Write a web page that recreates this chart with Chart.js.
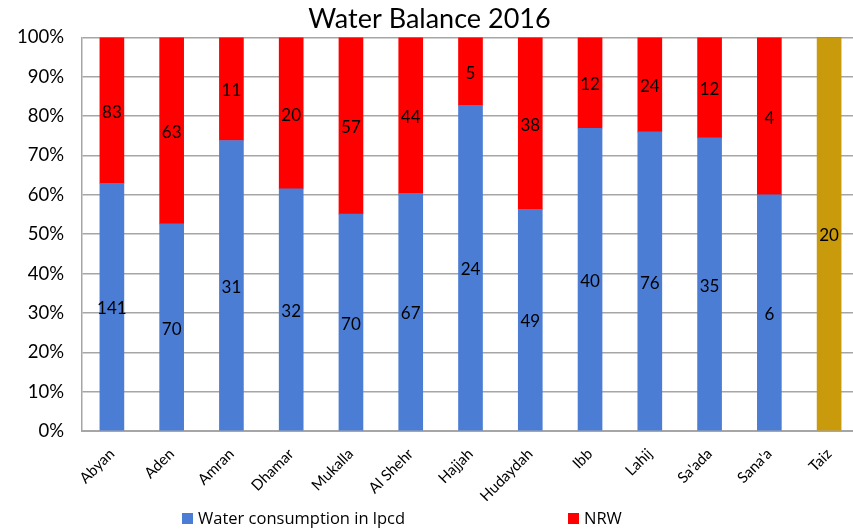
<!DOCTYPE html>
<html><head><meta charset="utf-8">
<script src="https://cdn.jsdelivr.net/npm/chart.js@4"></script>
<style>html,body{margin:0;padding:0;overflow:hidden;background:#fff}#wrap{width:860px;height:529px;position:relative}</style>
</head><body><div id="wrap"><canvas id="c"></canvas></div>
<script>
const categories = ['Abyan','Aden','Amran','Dhamar','Mukalla','Al Shehr','Hajjah','Hudaydah','Ibb','Lahij',"Sa'ada","Sana'a",'Taiz'];
const consumption = [141,70,31,32,70,67,24,49,40,76,35,6,20];
const nrw = [83,63,11,20,57,44,5,38,12,24,12,4,0];
const seriesNames = ['Water consumption in lpcd','NRW'];
const yTickValues = [0,10,20,30,40,50,60,70,80,90,100];

const BLUE = '#4c7dd4', RED = '#ff0000', GOLD = '#c99a0c';
const FONT = 'Lato, "Open Sans", sans-serif';

const pct = (a, b) => a.map((v, i) => v / (a[i] + b[i]) * 100);

const valueLabels = {
  id: 'valueLabels',
  afterDatasetsDraw(chart) {
    const ctx = chart.ctx;
    ctx.save();
    ctx.font = '17px ' + FONT;
    ctx.fillStyle = '#000';
    ctx.textAlign = 'center';
    ctx.textBaseline = 'middle';
    chart.data.datasets.forEach((ds, di) => {
      const meta = chart.getDatasetMeta(di);
      meta.data.forEach((el, i) => {
        const raw = ds.rawValues[i];
        if (!raw) return;
        ctx.fillText(String(raw), el.x, (el.y + el.base) / 2 + 2);
      });
    });
    ctx.restore();
  }
};

const customLegend = {
  id: 'customLegend',
  afterDraw(chart) {
    const ctx = chart.ctx;
    ctx.save();
    ctx.font = '16.5px "Open Sans", sans-serif';
    ctx.textBaseline = 'middle';
    const items = [{x: 182, color: BLUE, text: seriesNames[0]}, {x: 568, color: RED, text: seriesNames[1]}];
    const y = 518;
    items.forEach(it => {
      ctx.fillStyle = it.color;
      ctx.fillRect(it.x, y - 5, 11, 11);
      ctx.fillStyle = '#000';
      ctx.fillText(it.text, it.x + 16, y + 1);
    });
    ctx.restore();
  }
};

new Chart(document.getElementById('c'), {
  type: 'bar',
  data: {
    labels: categories,
    datasets: [
      {label: seriesNames[0], data: pct(consumption, nrw), rawValues: consumption,
       backgroundColor: categories.map((c, i) => i === categories.length - 1 ? GOLD : BLUE)},
      {label: seriesNames[1], data: pct(nrw, consumption), rawValues: nrw, backgroundColor: RED}
    ]
  },
  options: {
    responsive: true,
    maintainAspectRatio: false,
    animation: false,
    layout: {padding: {left: 0, right: 1, top: 0, bottom: 28}},
    datasets: {bar: {barThickness: 24}},
    scales: {
      x: {
        stacked: true,
        grid: {display: false},
        border: {display: true, color: '#a6a6a6', width: 2},
        ticks: {font: {size: 15, family: FONT}, color: '#000', minRotation: 45, maxRotation: 45, padding: 6},
        afterFit: s => { s.height = 70; }
      },
      y: {
        stacked: true,
        min: 0, max: 100,
        afterBuildTicks: s => { s.ticks = yTickValues.map(v => ({value: v})); },
        grid: {color: '#a6a6a6', lineWidth: 1.5, drawTicks: false},
        border: {display: true, color: '#a6a6a6', width: 1.5},
        ticks: {font: {size: 18.5, family: FONT}, color: '#000', padding: 18, callback: v => v + '%'},
        afterFit: s => { s.width = 82; }
      }
    },
    plugins: {
      legend: {display: false},
      tooltip: {enabled: false},
      title: {display: true, text: 'Water Balance 2016', color: '#000',
              font: {size: 27, family: FONT, weight: 'normal'}, padding: {top: 3, bottom: 2}}
    }
  },
  plugins: [valueLabels, customLegend]
});
</script></body></html>
